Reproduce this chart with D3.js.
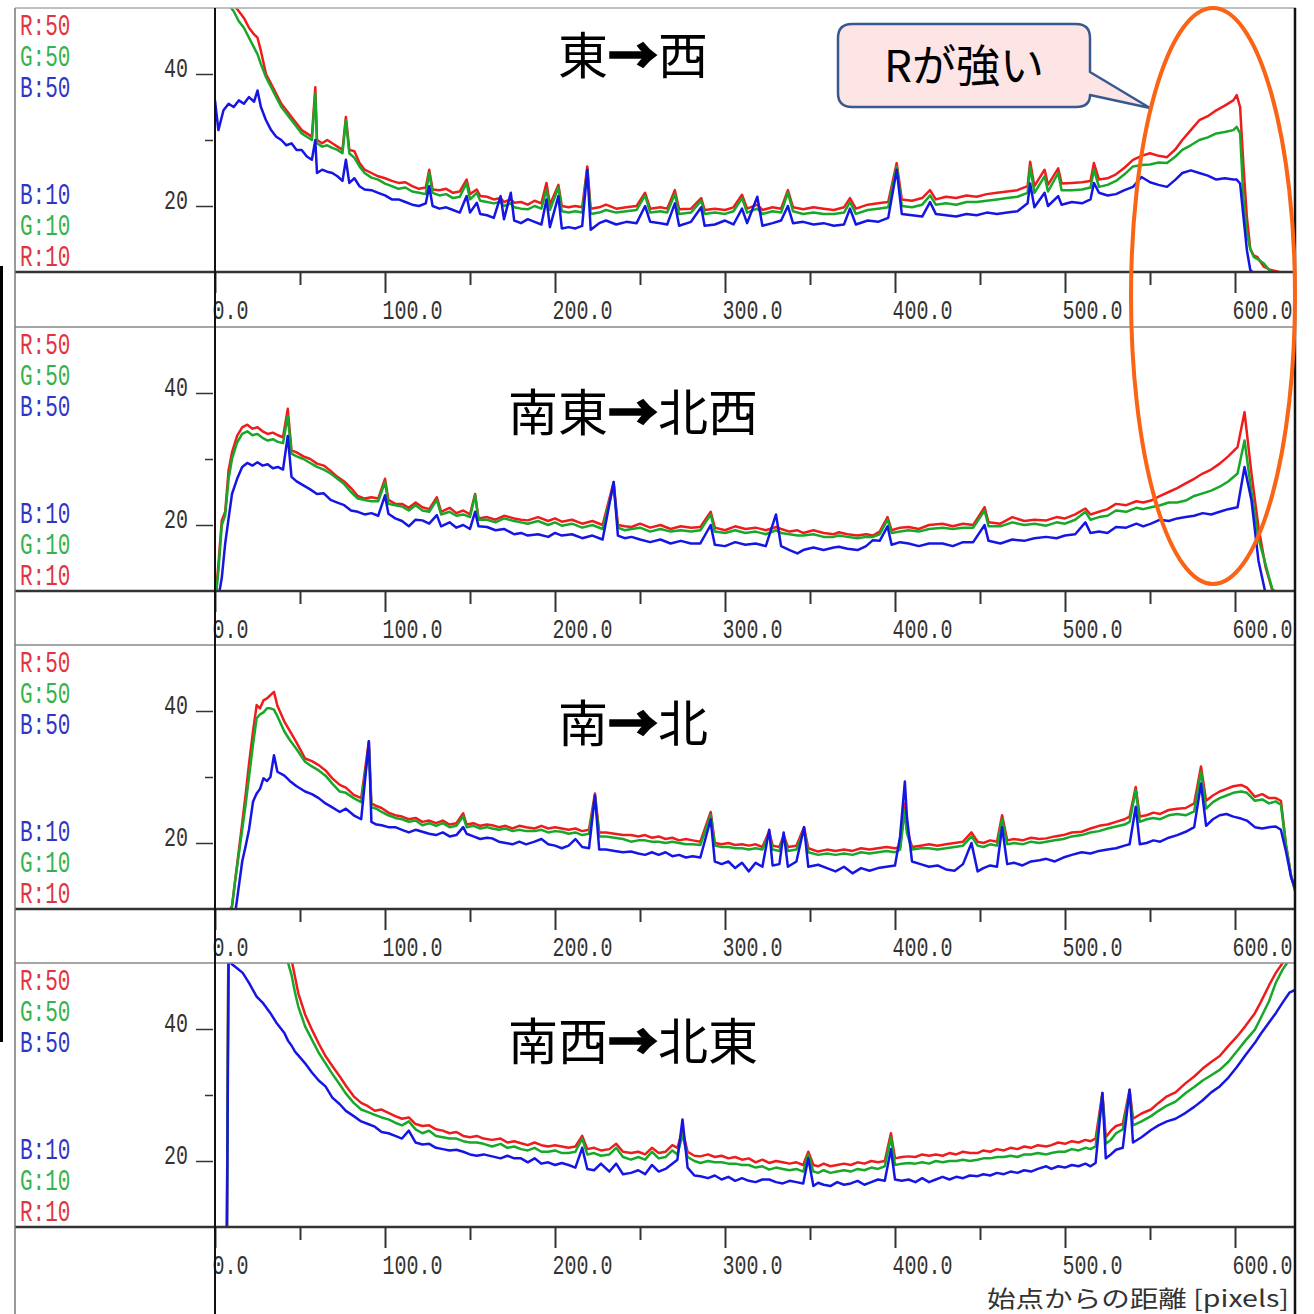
<!DOCTYPE html>
<html><head><meta charset="utf-8">
<script src="https://cdn.jsdelivr.net/npm/d3@7"></script>
<style>html,body{margin:0;padding:0;background:#fff;}svg{display:block;}</style>
</head><body><svg id="c" width="1314" height="1314"></svg>
<script>
// ---------- data ----------
const panelTitles = ["東→西", "南東→北西", "南→北", "南西→北東"];
const xTickMajor = [0,100,200,300,400,500,600];
const xTickMinor = [50,150,250,350,450,550];
const yTickMajor = [20,40];
const yTickMinor = [30];
const leftTopLabels = ["R:50","G:50","B:50"];
const leftBottomLabels = ["B:10","G:10","R:10"];
const xAxisTitle = "始点からの距離 [pixels]";
const calloutText = "Rが強い";

// Panel 1 東→西
const x1 = [0,2,5,8,11,14,17,20,23,25,
 27,30,33,36,39,42,45,48,51,54,
 57,59,60,63,66,69,72,75,77,79,
 82,85,88,92,96,100,104,108,112,116,
 120,124,126,128,132,136,140,144,148,150,
 154,156,160,164,168,170,174,176,180,184,
 188,192,195,197,202,204,208,212,216,219,
 221,226,230,236,242,248,253,256,262,266,
 270.5,273,280,286,288,294,300,305,310,313,
 319,322,328,333,337,340,346,352,358,364,
 370,373.5,377,384,390,396,401,404,410,416,
 420.6,424,430,436,442,448,454,460,466,472,
 478,479.5,482,488,490,496,498,504,510,515,
 517,520,525,530,535,540,545,550,555,560,
 565,569,574,579,584,589,594,599,601,603,
 605,607,609,611,613,617,621,626,636];
const r1 = [53,53,52,51.5,50.5,49.5,48.5,47,46,45.5,
 43.5,40,38.5,37,35.5,34.5,33.5,32.5,31.5,31,
 30.5,38,30,29.5,30,29.5,29,28.5,33.5,28.5,
 28.3,26.5,25.5,25,24.5,24.2,23.8,23.5,23.6,23,
 22.6,22.8,25.5,22.5,22.4,22.6,22,22.2,24,21.8,
 22.5,21.5,21.4,21,21.2,20.6,21,20.5,20.6,20.2,
 20.8,20.4,23.5,20.2,23.2,20,19.8,20,19.8,26,
 19.6,19.8,20.2,19.6,19.8,20,22,19.6,19.8,19.6,
 22.4,19.5,19.6,21.2,19.4,19.6,19.4,19.8,21.7,19.6,
 20.2,19.4,19.8,19.6,22.4,19.8,19.5,19.8,19.6,19.4,
 19.8,21.2,19.6,20.2,20.4,20.6,26.5,21,20.8,21.2,
 22.4,21,21.4,21.2,21.6,21.4,21.8,22,22.2,22.4,
 23,26.7,23,25.5,23.2,25.7,23.4,23.5,23.6,23.8,
 26.5,24,24.2,24.8,25.8,27,27.6,28,27.6,27.4,
 28.6,30,31.5,33,33.6,34.5,35.2,36,36.8,35,
 26,18.3,13.5,12.5,12.3,10.8,10.3,10,9.8];
const g1 = [52,52,51,50.5,49.5,48,47,45.5,44,43,
 41.5,39.5,38,36.5,35,34,33,32,31,30.5,
 30,37,29.5,29,29.2,28.8,28.5,28,33,28,
 27.3,26,25,24.3,24,23.4,23,22.6,22.8,22.2,
 22,21.8,25,22,21.6,21.8,21.2,21.4,23.5,21,
 22,20.8,20.6,20.4,20.6,20,20.4,19.8,19.6,19.5,
 20,19.6,22.5,19.4,22.8,19.2,19,19.2,19,25.5,
 18.8,19,19.4,19,19.2,19.4,21.6,19,19.2,19,
 21.8,18.8,19,20.8,18.8,19,18.8,19.2,21.2,19,
 19.6,18.8,19.2,19,22,19.2,18.8,19,18.8,18.8,
 19,20.6,18.8,19.4,19.6,19.8,26,20,19.8,20.2,
 21.6,20.2,20.4,20.2,20.6,20.6,20.8,21,21.2,21.4,
 22,26,22,24.5,22.2,25,22.4,22.4,22.5,22.8,
 25.5,22.9,23.2,23.8,24.8,26,26.2,26.3,26.6,26.5,
 27.5,28.5,29.2,30,30.4,31,31.2,31.5,32,31,
 21,15.9,13.5,12.3,12,11.3,10,9.8,9.6];
const b1 = [36,31.5,34.5,35.5,35,36,35.5,36.5,35.8,37.5,
 35,33,31.5,30.5,30,29.2,29.5,28.5,28.5,27.5,
 27,30,25,25.5,25.2,25,24.5,23.8,27,23.5,
 24.2,23,22.5,22.4,22,21.6,21,21,20.6,20.2,
 20,20.4,23,20,19.6,19.8,19.4,19,21.5,19,
 20.5,18.8,18.6,18.2,21.5,18,22,17.8,17.4,18,
 17.6,17.2,21,16.8,21.5,16.6,16.8,16.6,17,25.5,
 16.4,17.4,17.8,17.2,17.6,17.4,20,17.6,17.4,17.2,
 20.4,17,17.6,19.8,17,17.2,17.8,17.2,19.6,17.4,
 21.4,17,17.4,17.8,20,17.4,17.6,17.2,17.4,17,
 17.2,19.6,17.2,17.8,17.6,18.2,25.5,18.8,18.6,18.4,
 20.6,18.8,18.6,18.4,18.8,18.6,19,18.8,19,19.2,
 20.4,23.4,19.8,22,20,21.5,20.2,20.6,20.4,21,
 23.5,22,21.6,21.8,22.4,22.9,24.4,23.6,23.2,22.9,
 24,25,25.4,25,24.6,24,24.2,24,24,23.4,
 18.3,13.3,10.3,9.8,9.5,9.5,9.5,9.5,9.5];

// Panel 2 南東→北西
const x2 = [0,2,4,6,8,10,13,16,19,22,
 25,28,31,34,37,40,42.8,45,48,52,
 56,60,64,68,72,76,80,84,88,92,
 96,100,102,106,110,114,118,122,126,130.5,
 133,138,142,146,150,153,155,160,165,170,
 176,180,184,190,196,200,204,210,216,222,
 228,234.5,237,241,245,250,256,262,268,274,
 280,285.5,291.6,294,300,306,312,318,324,330,
 333,338,342.6,346,352,358,364,367,372,378,
 383,387,391,395.6,398,403,408,414,420,428,
 434,440,446,452.7,455,462,469,476,482,489,
 495,500,506,512,515,520,525,530,536,542,
 546,550.6,556,561,566,571,576,581,586,591,
 596,601.5,605.6,609.7,613.8,618,622,626,636];
const r2 = [8,14,20.7,22,28.3,31,33.5,34.8,35.2,34.6,
 34.8,34.2,33.8,34,33.6,33.3,37.6,31.3,31,30.4,
 30,29.3,29,28.2,27.3,26.6,25.6,24.4,24,24.2,
 24,27,23.8,23.2,23.2,22.6,23.4,22.7,22.4,24.2,
 22,22.6,21.8,22.2,21.6,24.7,21,21.2,20.8,21.4,
 21,20.8,20.7,21.2,20.6,21,20.5,20.8,20.2,20.6,
 20,26.5,20,19.8,19.7,20.2,19.6,20,19.4,19.8,
 19.6,19.7,22,19.6,19.2,19.8,19.4,19.6,19.2,19.7,
 19.4,19,19.2,18.8,19.2,18.8,18.6,18.9,18.6,18.4,
 18.6,18.4,19,21.2,19.2,19.6,19.7,19.4,20,20.2,
 19.8,20.2,20,22.7,20.4,20.2,21.2,20.6,20.8,20.7,
 21.2,21,21.6,22.5,21.6,22,22.4,23.2,23,23.6,
 23.4,23.7,24.4,25,25.6,26.3,27,27.8,28.4,29.3,
 30.4,31.8,37.1,27.8,19.7,13.6,10.1,9.6,9.5];
const g2 = [8,13,20,21.5,27,30,32.5,33.8,34.2,33.6,
 33.8,33.2,32.8,33,32.6,32.4,36.5,30.8,30.4,30,
 29.4,28.8,28.4,27.8,27,26.2,25,24,23.8,23.6,
 23.6,26.5,23.2,23,22.8,22.2,23,22.2,22,23.8,
 21.6,22,21.4,21.6,21.2,24.5,20.8,20.8,20.4,21,
 20.6,20.4,20.2,20.6,20,20.4,19.9,20.2,19.6,20,
 19.4,26,19.6,19.2,19.4,19.6,19,19.4,19,19.2,
 19,19.2,21.6,19,18.8,19.2,18.8,19,18.6,19.2,
 18.8,18.6,18.4,18.4,18.6,18.2,18.2,18.4,18.2,18,
 18.2,18.2,18.6,20.8,18.8,19,19.2,19,19.4,19.6,
 19.4,19.6,19.6,22.2,19.8,19.8,20.4,20,20.2,19.9,
 20.4,20.2,20.8,22,20.8,21.2,21.4,22.2,22,22.6,
 22.4,22.7,23,23.4,23.4,23.7,24.4,24.8,25.2,25.8,
 26.6,27.8,32.8,25,18,14,10.2,9.6,9.5];
const b2 = [8,9,12,17.2,21,24.7,27,28.8,29.4,29,
 29.5,29,29.2,28.6,28.8,28.4,33.5,27.3,26.6,26,
 25.4,24.7,24.8,23.8,23.4,23,22.2,22,21.6,21.8,
 21.4,24.5,21.7,21,20.6,19.8,20.8,20.7,20.2,21.5,
 19.8,20.4,19.6,20,19.4,22,19.8,19.7,19.2,19.4,
 18.6,18.8,18.4,18.6,18.2,18.8,18.4,18.6,18,18.4,
 17.8,26.5,18.4,18,18.2,17.8,17.4,17.8,17.2,17.6,
 17.2,17.2,20,17,16.8,17.4,17,17.2,16.8,21.6,
 16.8,16.2,15.7,16.2,16.6,16.2,16.6,16.7,16.4,16.2,
 16.8,17.7,17.6,19.8,17,17.4,17.2,16.8,17.2,17.2,
 16.8,17.4,17.4,20,17.6,17.2,17.8,17.6,18,18.2,
 18,18.4,18.6,20.4,18.8,19,18.8,19.7,19.6,20.2,
 19.8,20.2,20.8,20.6,21,21.2,21.4,21.8,21.6,22,
 22.4,22.7,28.8,23.7,14.6,9.6,9.5,9.5,9.5];

// Panel 3 南→北
const x3 = [0,8,10,12,16,18,20,22.4,24.5,26.5,
 28.5,30.6,32.6,34.7,36.7,40.8,44,48,53,57,
 61,65,69,73.4,77,81.6,86,90.5,92,95,
 98,102,106,110,114,118,122,126,130,134,
 138,142,146,148,152,156,160,163,167,171,
 175,179,183,188,192,196,200,204,208,212,
 216,220,223.5,226,230,235,240,244.7,249,253,
 257,261,265,269,273,277,281,285.5,291.6,294,
 298,302,306,310,314,318,322,326,328,332,
 334.5,337,342,346.5,349,354.8,360,365,370,375,
 380,385,390,395,400,403,405.8,407,410,415,
 420,425,430,435,440,445,448.6,452,456,460,
 463,466,470,475,480,485,489,494,499,504,
 509.8,515,520,525,530,535,538,541.6,544,548,
 552,556,561,566,571,576,580,583,587,591,
 595,599,603.6,607,611.7,616,620,624,627,630,
 633,636];
const r3 = [9.5,9.6,10.4,14.6,23,27.3,32,37,40.9,40.4,
 41.6,41.9,42.4,42.9,40.8,38.4,37,35.2,32.8,32.4,
 31.8,31,29.8,28.8,28.4,27.3,26.8,35.4,26,25.6,
 25.3,24.6,24.2,24,23.6,23.8,23.2,23.4,23,23.4,
 22.8,23,24.5,22.8,23,22.6,22.8,22.7,22.4,22.6,
 22.2,22.6,22.4,22.2,22.6,22.2,22.4,22.2,22,22.2,
 21.8,22,27.5,21.6,21.6,21.4,21.2,21.2,21,21.2,
 20.8,21,20.6,20.8,20.4,20.6,20.4,20.2,24.7,20,
 19.8,20,19.7,19.8,19.6,19.8,19.4,21.8,19.6,19.4,
 21.2,19.4,19.6,22.4,19.2,18.7,19,18.8,19,18.8,
 19.2,19,19.2,19.4,19.2,19.4,26,22,19.4,19.6,
 19.8,19.6,19.8,20,20.2,21.6,20.2,20,20.4,20.2,
 24.2,20.4,20.6,20.4,20.8,20.6,20.7,21,21.2,21.6,
 21.7,22.2,22.6,22.8,23.2,23.6,24,28.5,24,24.2,
 24.6,24.4,25,25.2,25.3,26,31.6,26.4,27.2,27.8,
 28.2,28.6,28.8,28.4,27,27.4,26.8,26.8,26.4,19.7,
 15,12.6];
const g3 = [9.5,9.6,10.4,14.6,22,25.8,30,35,38.9,39.5,
 39.8,40.4,40.4,40.2,39.2,36.9,35.6,34.2,32.3,31.6,
 31,30.2,29,27.8,27.6,26.8,26.2,34.5,25.4,25.2,
 24.7,24.2,23.8,23.6,23.2,23.4,22.7,23,22.6,23,
 22.4,22.6,24,22.4,22.6,22.2,22.4,22.2,22,22.2,
 21.8,22,21.8,21.8,22,21.6,21.8,21.7,21.4,21.6,
 21.2,21.4,27,21,21,20.8,20.6,20.2,20.4,20.4,
 20.2,20.2,20,20.2,20,19.8,19.8,19.7,24.2,19.6,
 19.4,19.4,19.2,19.2,19,19.2,19,21.4,19,18.8,
 21,18.8,19,22,18.6,18.2,18.4,18.2,18.4,18.2,
 18.6,18.4,18.6,18.8,18.6,19,25,21.5,19,19.2,
 19.2,19,19.2,19.4,19.6,21,19.6,19.4,19.8,19.6,
 23.6,19.8,20,19.8,20.2,20,20.2,20.4,20.6,21,
 21.2,21.6,21.8,22.2,22.5,22.8,23.2,28,23.2,23.6,
 23.8,23.6,24.2,24.4,24.2,24.8,30.8,25.2,26.2,26.8,
 27.2,27.6,27.8,27.6,26.4,26.6,26,26.3,25.8,19.7,
 15,12];
const b3 = [9.5,9.5,9.5,9.6,17.2,19.5,22,26.3,27.5,28.2,
 29.8,29.4,30,33.3,30.8,30.2,29.4,28.6,27.8,27.4,
 26.8,26,25.4,24.7,25.2,24.2,23.6,35.4,23.2,22.8,
 22.7,22.4,22.4,22,21.6,22,21.7,21.4,21.2,21.6,
 21,21.2,22.4,21.4,21,20.6,20.8,20.7,20.2,20,
 19.8,20.2,19.8,20.2,20.6,19.8,19.6,19.2,19.6,20.6,
 19.4,19.2,27.2,19,19,18.8,18.6,18.7,18.4,18.2,
 18.6,18.2,18.6,18,18.2,17.8,18,17.8,23.6,17.2,
 16.8,17.2,16.2,17,15.7,17,16.4,22,16.6,16.8,
 21.6,16.4,17.2,22.4,16.4,16.7,16.2,15.7,16.4,15.4,
 16.2,15.8,16.2,16.4,16.6,21,29.3,24,17.2,16.8,
 16.4,16.6,16,15.8,16.8,20,15.7,16.2,16.6,16.4,
 22.4,16.8,17,16.6,17.2,17.4,17.6,17.2,17.8,18.2,
 18.6,18.4,18.8,19,19.2,19.6,19.8,25.5,19.8,20,
 20.4,20.2,20.8,21.2,21.7,22.4,29,22.6,23.6,24.2,
 24.4,24,23.7,23.4,22.4,22.2,22.4,22.5,22,18.7,
 14.8,12.6];

// Panel 4 南西→北東
const x4 = [0,7,8,10,13,16.3,20,24.5,28,32.6,
 36,40.8,43,45,47,49,53,57,61,65,
 69,73.4,77,81.6,86,90,94,98,102,106,
 110,114,118,122,126,130,134,138,142,146,
 150,154,158,163,168,172,176,180,184,188,
 192,196,200,204,208,212,216,219,223,227,
 232,236,240,244.7,249,253,257,261,265,269,
 272,275,278,282,285.5,290,294,298,302,306,
 310,314,318,322,326,330,334,338,342,346,
 349,352,354.8,358,362,366,370,374,378,382,
 386,390,394,397.6,400,404,408,412,416,420,
 424,428,432,436,440,444,448.6,452,456,460,
 464,468,472,476,480,484,489,492,496,500,
 504,508,512,515,518,522,524,527,530,534,
 538,540,545,550.6,555,560,565,571,576,581,
 586,591,596,601,606,611.7,615,620,624,628,
 632,636];
const r4 = [9,9,60,60,60,60,60,60,60,60,
 58,54,52.5,50.5,48,45.4,42.2,39.9,37.8,35.9,
 34.4,32.8,31.4,29.8,28.8,28.3,27.6,27.8,27.3,26.8,
 26.4,26.6,25.6,25.3,25.4,24.8,24.6,24.2,24.4,23.8,
 23.6,23.8,23.4,23.2,23.4,22.8,23,22.7,22.4,22.8,
 22.4,22.2,22.4,22.2,22,22.2,23.8,21.8,22,21.6,
 21.8,22.6,21.4,21.2,21.4,21,22,21.2,21.4,22.4,
 22,24.6,21.4,20.8,20.7,21,20.6,20.8,20.4,20.6,
 20.2,20.4,19.8,20.2,19.7,20,19.8,19.6,19.8,19.4,
 21.4,19.4,19.2,19.6,19.2,19.4,19.6,19.4,19.8,19.6,
 20,19.8,20,24.2,20.4,20.6,20.7,20.6,21,20.8,
 21,20.8,21.2,21,21.4,21.2,21.2,21.6,21.4,21.8,
 21.6,22,21.8,22.2,22,22.4,22.2,22.4,22.8,22.6,
 23,22.8,23.2,23,23.4,30.3,23.6,24.6,25.3,25.6,
 30.8,26.4,27.2,27.8,28.8,29.8,30.4,31.8,32.8,34,
 35,35.9,37.4,38.8,40.4,42.4,44,46.6,48.5,50,
 51.5,52.5];
const g4 = [9,9,60,60,60,60,60,60,60,60,
 57,52,50,48.2,45.6,43.4,40.4,38.4,36.4,34.8,
 33.2,31.6,30.2,28.8,27.8,27.4,27,26.6,26.3,25.8,
 25.4,26,24.8,24.2,24.6,23.8,23.6,23.4,23.4,23,
 22.8,22.8,22.6,22.2,22.6,22,22.2,21.8,21.6,22,
 21.4,21.4,21.6,21.2,21.2,21.4,23.4,21,21.2,20.8,
 21,22,20.6,20.2,20.6,20.2,21.4,20.4,20.6,21.6,
 21,24,20.6,20,19.7,20,19.8,19.8,19.6,19.6,
 19.4,19.4,19,19.2,18.7,19,18.8,18.6,18.8,18.4,
 21,18.4,18.2,18.6,18.2,18.4,18.6,18.4,18.8,18.6,
 19,18.8,19.2,23.6,19.4,19.6,19.7,19.6,19.8,19.6,
 20,19.8,20,20,20.2,20,20.2,20.4,20.4,20.6,
 20.6,20.8,20.6,21,21,21.2,21,21.2,21.4,21.4,
 21.8,21.6,22,21.8,22.2,30,22.6,23.2,24.2,24.8,
 30.5,25.4,26,26.8,27.6,28.4,29,30.3,31.2,32.2,
 33,33.8,35,36.6,38.2,39.9,41.6,44.2,47,49,
 50.5,51.5];
const b4 = [9,9,50.5,49.8,49.2,48.5,47,44.9,44,42.4,
 41,39.4,38.2,37.5,36.6,36,34.8,33.4,32.2,31.3,
 29.6,28.6,27.6,26.8,26,25.6,25.2,24.4,24.2,23.8,
 23.4,24.6,22.8,22.5,22.6,22,21.8,21.6,21.7,21.4,
 21,20.8,21,20.7,20.4,20.8,20.4,20.4,19.8,20.4,
 19.6,19.8,19.4,19.7,19.4,19,22,18.8,18.6,19.6,
 18.4,19.6,18,18.2,18.6,18,19.4,18.4,18.8,19.6,
 20.2,26.3,19,17.8,17.7,17.4,17.8,17.2,17.6,17,
 17.4,17,16.8,17.2,17.2,16.8,16.6,17,16.8,16.6,
 20.4,16.2,16.7,16.4,16.2,16.8,16.4,16.6,17,16.4,
 16.8,17.2,17,21.8,17.2,17,17.2,16.8,17.4,16.8,
 17.2,17.6,17.2,17.6,17.4,17.8,17.7,18,17.8,18.2,
 18,18.4,18.2,18.6,18.4,18.8,19.2,18.8,19.2,19,
 19.4,19.2,19.6,19.2,19.7,30.3,20.4,21,21.7,22,
 30.8,22.8,23.6,24.7,25.4,26,26.4,27.3,28.2,29.2,
 30.4,31.3,32.6,34.2,36,37.9,39.2,41,42.4,44,
 45.5,46];

// ---------- layout ----------
const svg = d3.select("#c");
const W = 1314;
const frameL = 15, frameR = 1296, plotL = 215;
const panelTops = [8, 327, 645, 963];
const plotH = 264;
const titleBaselines = [74, 431, 742, 1060];
const panels = [
  {xs:x1, r:r1, g:g1, b:b1},
  {xs:x2, r:r2, g:g2, b:b2},
  {xs:x3, r:r3, g:g3, b:b3},
  {xs:x4, r:r4, g:g4, b:b4}
];
const lineColors = {r:"#ee1c1c", g:"#17a82a", b:"#1616e4"};
const labelColors = {R:"#e2343f", G:"#35b24c", B:"#2f36c6"};
const monoFont = "'Liberation Mono','DejaVu Sans Mono',monospace";
const cjkFont = "'Noto Sans CJK JP','Noto Sans CJK SC',sans-serif";

svg.append("rect").attr("width", W).attr("height", W).attr("fill", "#fff");

const x = d3.scaleLinear().domain([0, 636]).range([plotL, plotL + 636 * 1.7]);

panels.forEach((p, i) => {
  const top = panelTops[i];
  const axisY = top + plotH;
  const y = d3.scaleLinear().domain([10, 50]).range([axisY, top]);
  const g = svg.append("g");

  const cid = "clip" + i;
  svg.append("clipPath").attr("id", cid).append("rect")
    .attr("x", plotL).attr("y", top).attr("width", frameR - plotL).attr("height", plotH);

  const idx = d3.range(p.xs.length);
  ["r", "g", "b"].forEach(k => {
    const line = d3.line().x(j => x(p.xs[j])).y(j => y(p[k][j]));
    g.append("path").attr("clip-path", `url(#${cid})`)
      .attr("d", line(idx)).attr("fill", "none")
      .attr("stroke", lineColors[k]).attr("stroke-width", 2.5)
      .attr("stroke-linejoin", "round");
  });

  svg.append("line").attr("x1", frameL).attr("x2", frameR)
    .attr("y1", top).attr("y2", top).attr("stroke", i === 0 ? "#aaa" : "#888").attr("stroke-width", 1.5);

  svg.append("line").attr("x1", frameL).attr("x2", frameR)
    .attr("y1", axisY).attr("y2", axisY).attr("stroke", "#333").attr("stroke-width", 2.5);

  const xa = svg.append("g").attr("transform", `translate(0,${axisY})`)
    .call(d3.axisBottom(x).tickValues(xTickMajor).tickSize(21).tickFormat(d => d.toFixed(1)));
  xa.select(".domain").remove();
  xa.selectAll(".tick line").attr("stroke", "#333").attr("stroke-width", 2);
  xa.selectAll(".tick text").attr("x", null).attr("y", null).attr("dy", null)
    .attr("text-anchor", "start").attr("fill", "#333")
    .style("font-family", monoFont).style("font-size", "20px")
    .attr("transform", "translate(-3,47) scale(1,1.4)");
  const xm = svg.append("g").attr("transform", `translate(0,${axisY})`)
    .call(d3.axisBottom(x).tickValues(xTickMinor).tickSize(13).tickFormat(""));
  xm.select(".domain").remove();
  xm.selectAll(".tick line").attr("stroke", "#333").attr("stroke-width", 2);

  const ya = svg.append("g").attr("transform", `translate(213,0)`)
    .call(d3.axisLeft(y).tickValues(yTickMajor).tickSize(17).tickFormat(d3.format("d")));
  ya.select(".domain").remove();
  ya.selectAll(".tick line").attr("stroke", "#333").attr("stroke-width", 1.5);
  ya.selectAll(".tick text").attr("x", null).attr("y", null).attr("dy", null)
    .attr("text-anchor", "end").attr("fill", "#333")
    .style("font-family", monoFont).style("font-size", "20px")
    .attr("transform", "translate(-25,2) scale(1,1.35)");
  const ym = svg.append("g").attr("transform", `translate(213,0)`)
    .call(d3.axisLeft(y).tickValues(yTickMinor).tickSize(8).tickFormat(""));
  ym.select(".domain").remove();
  ym.selectAll(".tick line").attr("stroke", "#333").attr("stroke-width", 1.5);

  const topOffsets = [27, 58, 89], botOffsets = [196, 227, 258];
  leftTopLabels.forEach((t, j) => {
    svg.append("text").text(t)
      .attr("transform", `translate(20,${top + topOffsets[j]}) scale(1,1.4)`)
      .attr("fill", labelColors[t[0]])
      .style("font-family", monoFont).style("font-size", "21px");
  });
  leftBottomLabels.forEach((t, j) => {
    svg.append("text").text(t)
      .attr("transform", `translate(20,${top + botOffsets[j]}) scale(1,1.4)`)
      .attr("fill", labelColors[t[0]])
      .style("font-family", monoFont).style("font-size", "21px");
  });

  // title with heavier arrow
  const parts = panelTitles[i].split("→");
  const tt = svg.append("text")
    .attr("x", 633).attr("y", titleBaselines[i]).attr("text-anchor", "middle")
    .attr("fill", "#000").style("font-family", cjkFont).style("font-size", "50px");
  tt.append("tspan").text(parts[0]);
  tt.append("tspan").text("→").style("font-weight", "900").attr("stroke", "#000").attr("stroke-width", 1.5);
  tt.append("tspan").text(parts[1]);
});

svg.append("line").attr("x1", frameL).attr("x2", frameL).attr("y1", 8).attr("y2", 1314)
  .attr("stroke", "#777").attr("stroke-width", 1.5);
svg.append("line").attr("x1", plotL).attr("x2", plotL).attr("y1", 8).attr("y2", 1314)
  .attr("stroke", "#111").attr("stroke-width", 2);
svg.append("line").attr("x1", frameR - 1).attr("x2", frameR - 1).attr("y1", 8).attr("y2", 1314)
  .attr("stroke", "#111").attr("stroke-width", 2.5);
svg.append("rect").attr("x", 0).attr("y", 266).attr("width", 3).attr("height", 776).attr("fill", "#000");

svg.append("text").text(xAxisTitle)
  .attr("x", 987).attr("y", 1307)
  .attr("textLength", 302).attr("lengthAdjust", "spacingAndGlyphs")
  .attr("fill", "#333").style("font-family", cjkFont).style("font-size", "23px");

svg.append("path")
  .attr("d", "M852,24 H1076 Q1090,24 1090,38 V72 L1150,108 L1090,95 Q1090,107 1076,107 H852 Q838,107 838,93 V38 Q838,24 852,24 Z")
  .attr("fill", "#fde4e5").attr("stroke", "#38598f").attr("stroke-width", 2.5).attr("stroke-linejoin", "round");
svg.append("text").text(calloutText)
  .attr("x", 964).attr("y", 82).attr("text-anchor", "middle")
  .attr("fill", "#000").style("font-family", cjkFont).style("font-size", "44px");

svg.append("ellipse").attr("cx", 1213).attr("cy", 296).attr("rx", 82).attr("ry", 288)
  .attr("fill", "none").attr("stroke", "#fa6414").attr("stroke-width", 4);
</script></body></html>
